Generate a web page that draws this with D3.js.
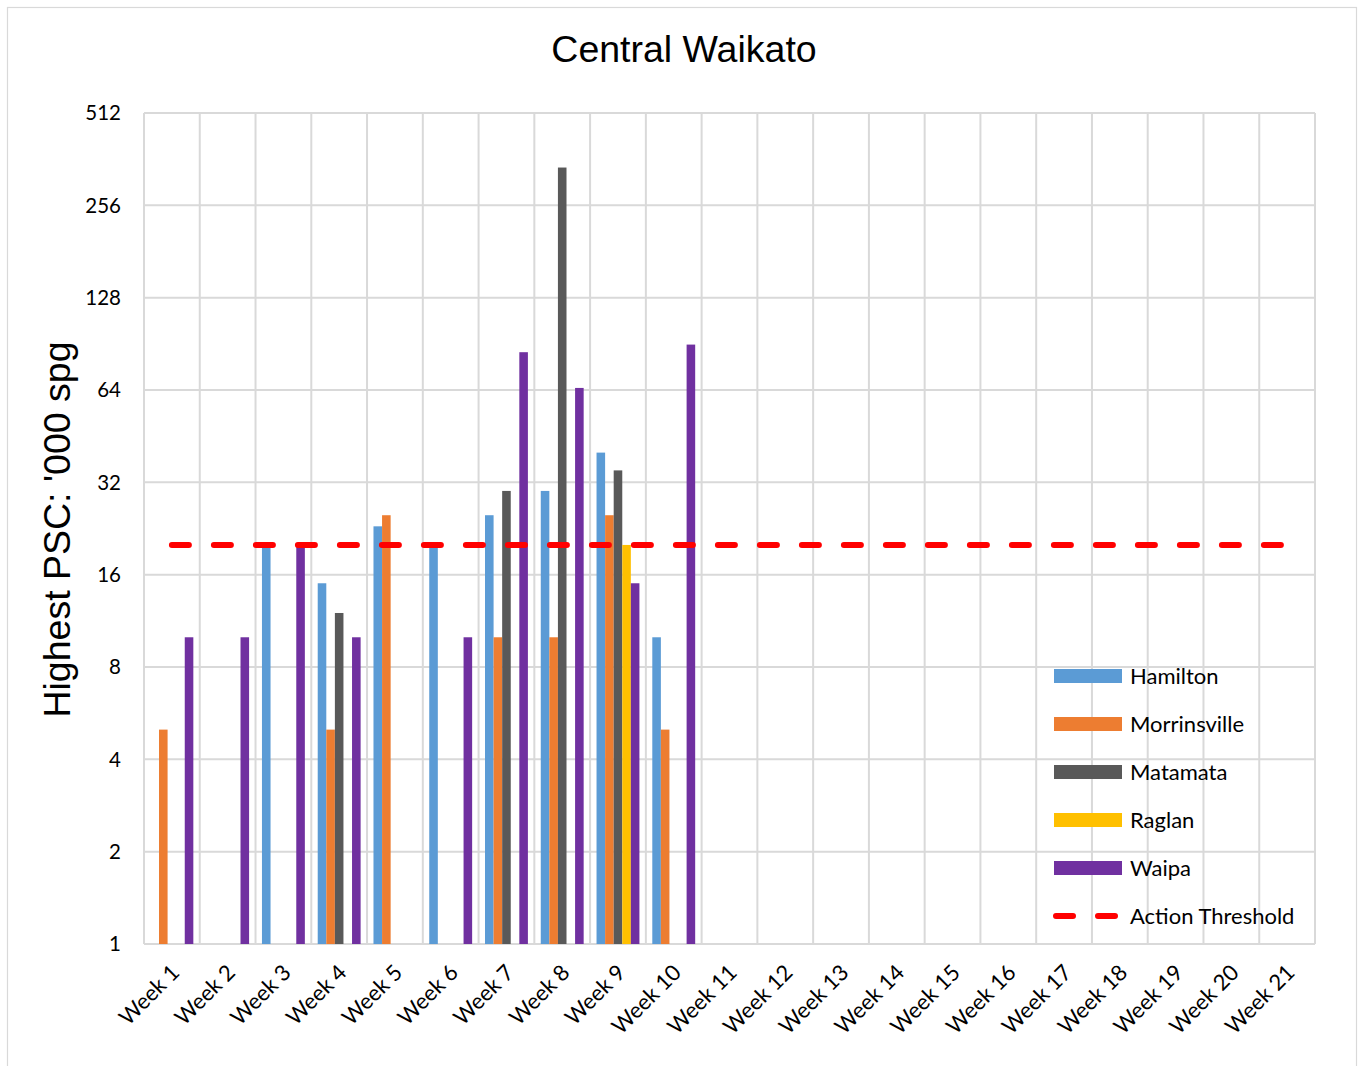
<!DOCTYPE html>
<html>
<head>
<meta charset="utf-8">
<script src="https://cdn.jsdelivr.net/npm/d3@7"></script>
<style>
  html, body { margin: 0; padding: 0; background: #fff; }
  svg { display: block; }
  text { fill: #000; }
</style>
</head>
<body>
<div id="chart"></div>
<script>
// values ('000 spg), null = no bar
const weeks = ['Week 1','Week 2','Week 3','Week 4','Week 5','Week 6','Week 7','Week 8','Week 9','Week 10',
  'Week 11','Week 12','Week 13','Week 14','Week 15','Week 16','Week 17','Week 18','Week 19','Week 20','Week 21'];
const seriesNames = ['Hamilton', 'Morrinsville', 'Matamata', 'Raglan', 'Waipa'];
const seriesColors = ['#5b9bd5', '#ed7d31', '#595959', '#ffc000', '#7030a0'];
const hamilton     = [null, null, 20, 15, 23, 20, 25, 30, 40, 10];
const morrinsville = [5, null, null, 5, 25, null, 10, 10, 25, 5];
const matamata     = [null, null, null, 12, null, null, 30, 340, 35, null];
const raglan       = [null, null, null, null, null, null, null, null, 20, null];
const waipa        = [10, 10, 20, 10, null, 10, 85, 65, 15, 90];
const threshold    = weeks.map(() => 20);
const yTicks = [1, 2, 4, 8, 16, 32, 64, 128, 256, 512];

const W = 1364, H = 1066;
const m = { t: 113, r: 49, b: 122, l: 144 };
const svg = d3.select('#chart').append('svg').attr('width', W).attr('height', H);

// chart frame
svg.append('rect').attr('x', 7.5).attr('y', 7.5).attr('width', W - 15).attr('height', H - 4)
  .attr('fill', '#fff').attr('stroke', '#d9d9d9').attr('stroke-width', 1.2);

const x0 = d3.scaleBand().domain(weeks).range([m.l, W - m.r]);
// excel gap width 150%: step = 5 bars + 1.5 bar
const bw = x0.step() / 6.5;
const x1 = d3.scaleBand().domain(seriesNames).range([0, bw * 5]);
const y = d3.scaleLog().base(2).domain([1, 512]).range([H - m.b, m.t]);

// gridlines
const grid = svg.append('g').attr('stroke', '#d9d9d9').attr('stroke-width', 2);
grid.selectAll('line.h').data(yTicks).join('line').attr('class', 'h')
  .attr('x1', m.l).attr('x2', W - m.r).attr('y1', d => y(d)).attr('y2', d => y(d));
grid.selectAll('line.v').data(weeks.concat(['end'])).join('line').attr('class', 'v')
  .attr('x1', (d, i) => m.l + i * x0.step()).attr('x2', (d, i) => m.l + i * x0.step())
  .attr('y1', m.t).attr('y2', H - m.b);

// bars
const allSeries = [hamilton, morrinsville, matamata, raglan, waipa];
allSeries.forEach((vals, si) => {
  const pts = vals.map((v, i) => ({ wk: weeks[i], v })).filter(d => d.v != null);
  svg.append('g').selectAll('rect').data(pts).join('rect')
    .attr('x', d => x0(d.wk) + (x0.step() - bw * 5) / 2 + x1(seriesNames[si]))
    .attr('width', x1.bandwidth())
    .attr('y', d => y(d.v)).attr('height', d => y(1) - y(d.v))
    .attr('fill', seriesColors[si]);
});

// action threshold
const line = d3.line().x((d, i) => x0(weeks[i]) + x0.bandwidth() / 2).y(d => y(d));
svg.append('path').datum(threshold).attr('d', line).attr('fill', 'none')
  .attr('stroke', '#ff0000').attr('stroke-width', 6).attr('stroke-linecap', 'round')
  .attr('stroke-dasharray', '17,25');

// y axis labels
svg.append('g').selectAll('text').data(yTicks).join('text')
  .attr('x', m.l - 23).attr('y', d => y(d)).attr('dy', '0.35em').attr('text-anchor', 'end')
  .attr('font-family', 'Lato, "Open Sans", sans-serif').attr('font-size', 20.5).text(d => d);

// x axis labels
svg.append('g').selectAll('text').data(weeks).join('text')
  .attr('transform', d => `translate(${x0(d) + x0.bandwidth() / 2 - 2},${H - m.b + 19}) rotate(-45)`)
  .attr('text-anchor', 'end').attr('dy', '0.7em')
  .attr('font-family', 'Lato, "Open Sans", sans-serif').attr('font-size', 22).text(d => d);

// titles
svg.append('text').attr('x', 684).attr('y', 62).attr('text-anchor', 'middle')
  .attr('font-family', '"Liberation Sans", Arial, sans-serif').attr('font-size', 37.5).text('Central Waikato');
svg.append('text').attr('transform', `translate(70,${(m.t + H - m.b) / 2 + 1}) rotate(-90)`)
  .attr('text-anchor', 'middle')
  .attr('font-family', '"Liberation Sans", Arial, sans-serif').attr('font-size', 37.5).text("Highest PSC: '000 spg");

// legend
const leg = svg.append('g').attr('transform', 'translate(1054,676)');
const legItems = seriesNames.map((n, i) => ({ n, c: seriesColors[i] })).concat([{ n: 'Action Threshold', c: '#ff0000', dash: true }]);
const li = leg.selectAll('g').data(legItems).join('g').attr('transform', (d, i) => `translate(0,${i * 48})`);
li.filter(d => !d.dash).append('rect').attr('x', 0).attr('y', -7).attr('width', 68).attr('height', 14).attr('fill', d => d.c);
li.filter(d => d.dash).append('line').attr('x1', 2).attr('x2', 66).attr('y1', 0).attr('y2', 0)
  .attr('stroke', d => d.c).attr('stroke-width', 6).attr('stroke-linecap', 'round').attr('stroke-dasharray', '17,25');
li.append('text').attr('x', 76).attr('dy', '0.35em')
  .attr('font-family', 'Lato, "Open Sans", sans-serif').attr('font-size', 22).text(d => d.n);
</script>
</body>
</html>
